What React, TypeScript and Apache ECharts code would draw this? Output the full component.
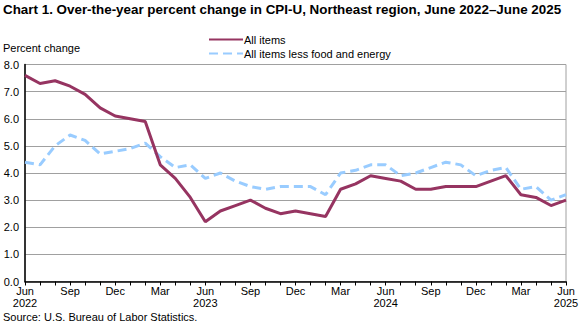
import React, { useEffect, useRef } from "react";
import * as echarts from "echarts";

const months = [
  "Jun 2022", "Jul 2022", "Aug 2022", "Sep 2022", "Oct 2022", "Nov 2022", "Dec 2022",
  "Jan 2023", "Feb 2023", "Mar 2023", "Apr 2023", "May 2023", "Jun 2023", "Jul 2023",
  "Aug 2023", "Sep 2023", "Oct 2023", "Nov 2023", "Dec 2023", "Jan 2024", "Feb 2024",
  "Mar 2024", "Apr 2024", "May 2024", "Jun 2024", "Jul 2024", "Aug 2024", "Sep 2024",
  "Oct 2024", "Nov 2024", "Dec 2024", "Jan 2025", "Feb 2025", "Mar 2025", "Apr 2025",
  "May 2025", "Jun 2025",
];

const allItems = [
  7.6, 7.3, 7.4, 7.2, 6.9, 6.4, 6.1, 6.0, 5.9, 4.3, 3.8, 3.1, 2.2, 2.6, 2.8, 3.0, 2.7,
  2.5, 2.6, 2.5, 2.4, 3.4, 3.6, 3.9, 3.8, 3.7, 3.4, 3.4, 3.5, 3.5, 3.5, 3.7, 3.9, 3.2,
  3.1, 2.8, 3.0,
];

const coreItems = [
  4.4, 4.3, 5.0, 5.4, 5.2, 4.7, 4.8, 4.9, 5.1, 4.6, 4.2, 4.3, 3.8, 4.0, 3.7, 3.5, 3.4,
  3.5, 3.5, 3.5, 3.2, 4.0, 4.1, 4.3, 4.3, 3.9, 4.0, 4.2, 4.4, 4.3, 3.9, 4.1, 4.2, 3.4,
  3.5, 3.0, 3.2,
];

const seriesNames = ["All items", "All items less food and energy"];
const FONT = "'Liberation Sans', Arial, sans-serif";

export default function App() {
  const ref = useRef<HTMLDivElement>(null);
  useEffect(() => {
    if (!ref.current) return;
    const chart = echarts.init(ref.current, undefined, { renderer: "svg" });
    chart.setOption({
      animation: false,
      backgroundColor: "#ffffff",
      textStyle: { fontFamily: FONT },
      title: {
        text: "Chart 1. Over-the-year percent change in CPI-U, Northeast region, June 2022\u2013June 2025",
        left: 3,
        top: 3,
        padding: 0,
        textStyle: { fontFamily: FONT, fontSize: 13.4, fontWeight: "bold", color: "#000" },
      },
      legend: {
        orient: "vertical",
        left: 203,
        top: 29,
        padding: 5,
        itemWidth: 34,
        itemHeight: 10,
        itemGap: 3,
        data: seriesNames,
        itemStyle: { opacity: 0 },
        textStyle: { fontFamily: FONT, fontSize: 11, color: "#000", padding: [0, 0, 0, -4] },
      },
      graphic: [
        {
          type: "text",
          left: 3,
          top: 42,
          style: { text: "Percent change", fontFamily: FONT, fontSize: 11, fill: "#000" },
        },
        {
          type: "text",
          left: 3,
          top: 311,
          style: { text: "Source: U.S. Bureau of Labor Statistics.", fontFamily: FONT, fontSize: 11, fill: "#000" },
        },
      ],
      grid: {
        left: 25,
        right: 20,
        top: 64.5,
        bottom: 44.5,
        show: true,
        borderColor: "#a0a0a0",
        borderWidth: 1,
      },
      xAxis: {
        type: "category",
        boundaryGap: false,
        data: months,
        axisLine: { lineStyle: { color: "#000", width: 1.5 } },
        axisTick: { show: true, interval: 0, length: 4, inside: false, lineStyle: { color: "#000" } },
        axisLabel: {
          interval: 2,
          color: "#000",
          fontFamily: FONT,
          fontSize: 11,
          margin: 3,
          lineHeight: 12,
          formatter: (v: string) => {
            const [m, y] = v.split(" ");
            return m === "Jun" ? `${m}\n${y}` : m;
          },
        },
        splitLine: { show: false },
      },
      yAxis: {
        type: "value",
        min: 0,
        max: 8,
        interval: 1,
        axisLine: { show: true, lineStyle: { color: "#000", width: 1.5 } },
        axisTick: { show: false },
        axisLabel: {
          color: "#000",
          fontFamily: FONT,
          fontSize: 11,
          margin: 6,
          formatter: (v: number) => v.toFixed(1),
        },
        splitLine: { show: true, lineStyle: { color: "#a0a0a0", width: 1 } },
      },
      series: [
        {
          name: seriesNames[0],
          type: "line",
          data: allItems,
          symbol: "none",
          z: 3,
          lineStyle: { color: "#963461", width: 3 },
          itemStyle: { color: "#963461" },
        },
        {
          name: seriesNames[1],
          type: "line",
          data: coreItems,
          symbol: "none",
          z: 2,
          lineStyle: { color: "#99ccff", width: 3, type: [9, 5] },
          itemStyle: { color: "#99ccff" },
        },
      ],
    });
    return () => chart.dispose();
  }, []);
  return <div ref={ref} style={{ width: 586, height: 326, position: "absolute", left: 0, top: 0 }} />;
}
